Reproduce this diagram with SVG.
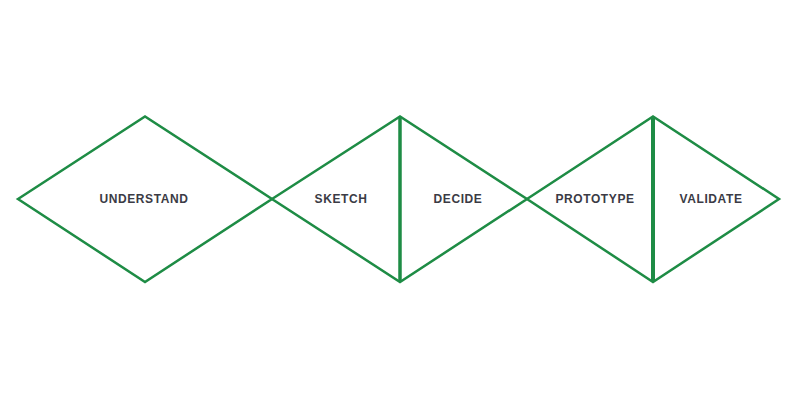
<svg xmlns="http://www.w3.org/2000/svg" width="800" height="400" viewBox="0 0 800 400">
<style>
.d{fill:none;stroke:#1e8c45;stroke-width:2.5;stroke-linejoin:miter}
.v{stroke:#1e8c45;stroke-width:3.5}
.t{font-family:"Liberation Sans",Arial,sans-serif;font-weight:bold;font-size:12px;letter-spacing:0.6px;fill:#3b3b45;text-anchor:middle}
</style>
<rect width="800" height="400" fill="#fff"/>
<g id="diamond-understand">
<polygon class="d" points="18,199 145,116.5 272,199 145,282"/>
<text class="t" x="144" y="203">UNDERSTAND</text>
</g>
<g id="diamond-sketch-decide">
<polygon class="d" points="272,199 400,116.5 527,199 400,282"/>
<line class="v" x1="400" y1="117" x2="400" y2="282"/>
<text class="t" x="341" y="203">SKETCH</text>
<text class="t" x="458" y="203">DECIDE</text>
</g>
<g id="diamond-prototype-validate">
<polygon class="d" points="527,199 653,116.5 779,199 653,282"/>
<line class="v" x1="653" y1="117" x2="653" y2="282" style="stroke-width:4"/>
<text class="t" x="595" y="203">PROTOTYPE</text>
<text class="t" x="711" y="203">VALIDATE</text>
</g>
<g id="connectors"></g>
</svg>
